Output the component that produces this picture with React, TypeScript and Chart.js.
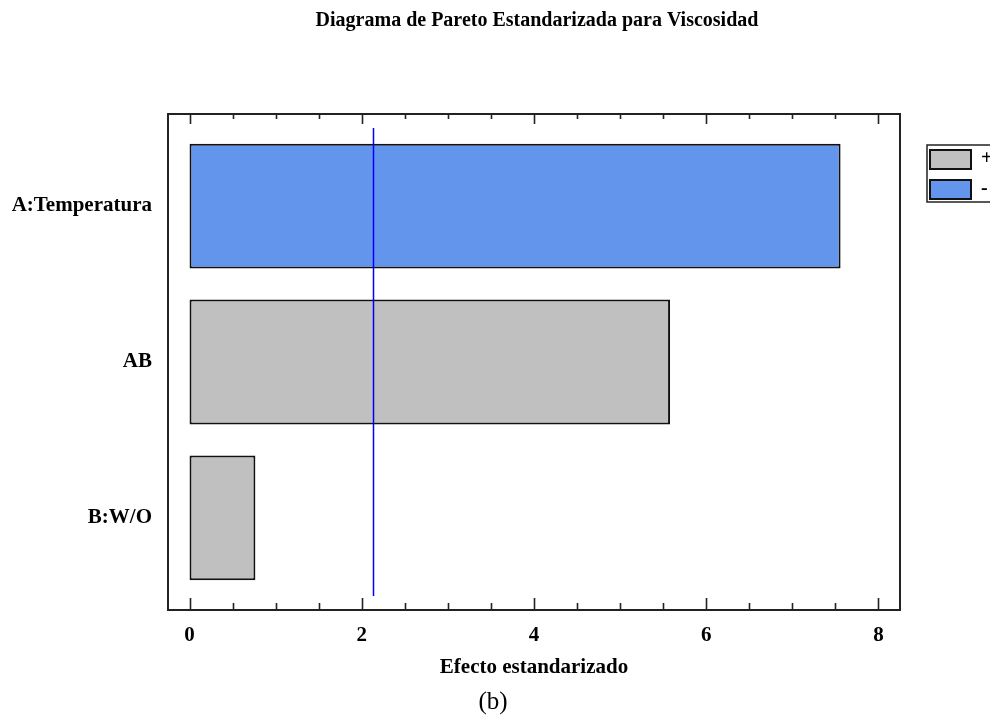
import React, { useEffect, useRef } from "react";
import { Chart, registerables } from "chart.js";

Chart.register(...registerables);

const TITLE = "Diagrama de Pareto Estandarizada para Viscosidad";
const X_TITLE = "Efecto estandarizado";
const CAPTION = "(b)";
const FACTORS = ["A:Temperatura", "AB", "B:W/O"];
const EFFECTS = [7.56, 5.58, 0.765];
const SIGNS = ["-", "+", "+"];
const CRITICAL = 2.125;
const X_TICKS = [0, 2, 4, 6, 8];
const X_MINOR_STEP = 0.5;
const LEGEND_ITEMS = ["+", "-"];

const BLUE = "#6495ED";
const GRAY = "#C0C0C0";
const FONT = "'Liberation Serif', 'Times New Roman', serif";

const decorPlugin = {
  id: "decor",
  beforeDatasetsDraw(chart: any) {
    const { ctx, chartArea: a, scales } = chart;
    const xs = scales.x;
    ctx.save();
    const start = X_TICKS[0];
    const end = X_TICKS[X_TICKS.length - 1];
    ctx.strokeStyle = "#222";
    ctx.lineWidth = 1.6;
    for (let v = start; v <= end + 1e-9; v += X_MINOR_STEP) {
      const px = Math.round(xs.getPixelForValue(v)) + 0.5;
      const major = X_TICKS.some((t) => Math.abs(t - v) < 1e-9);
      const lb = major ? 12 : 7;
      const lt = major ? 10 : 5;
      ctx.beginPath();
      ctx.moveTo(px, a.bottom);
      ctx.lineTo(px, a.bottom - lb);
      ctx.moveTo(px, a.top);
      ctx.lineTo(px, a.top + lt);
      ctx.stroke();
    }
    ctx.restore();
  },
  afterDatasetsDraw(chart: any) {
    const { ctx, chartArea: a, scales } = chart;
    const xs = scales.x;
    const ys = scales.y;
    ctx.save();
    const cx = Math.round(xs.getPixelForValue(CRITICAL)) + 0.5;
    ctx.strokeStyle = "#0000FF";
    ctx.lineWidth = 1.5;
    ctx.beginPath();
    ctx.moveTo(cx, ys.getPixelForValue(-0.5));
    ctx.lineTo(cx, ys.getPixelForValue(FACTORS.length - 0.5));
    ctx.stroke();
    ctx.strokeStyle = "#222";
    ctx.lineWidth = 2;
    ctx.strokeRect(a.left, a.top, a.right - a.left, a.bottom - a.top);
    ctx.fillStyle = "#000";
    ctx.font = `bold 20px ${FONT}`;
    ctx.textAlign = "center";
    ctx.textBaseline = "middle";
    ctx.fillText(TITLE, (a.left + a.right) / 2 + 3, 21);
    ctx.font = `25px ${FONT}`;
    ctx.fillText(CAPTION, 493, 702);
    const lx = a.right + 27;
    const ly = a.top + 31;
    ctx.lineWidth = 1.5;
    ctx.strokeStyle = "#222";
    ctx.strokeRect(lx, ly, 120, 57);
    LEGEND_ITEMS.forEach((s, i) => {
      const by = ly + 5 + i * 30;
      ctx.fillStyle = s === "+" ? GRAY : BLUE;
      ctx.fillRect(lx + 3, by, 41, 19);
      ctx.lineWidth = 2;
      ctx.strokeStyle = "#111";
      ctx.strokeRect(lx + 3, by, 41, 19);
      ctx.fillStyle = "#000";
      ctx.font = `bold 20px ${FONT}`;
      ctx.textAlign = "left";
      ctx.fillText(s, lx + 54, by + 9);
    });
    ctx.restore();
  },
};

export default function App() {
  const ref = useRef<HTMLCanvasElement | null>(null);
  useEffect(() => {
    if (!ref.current) return;
    const chart = new Chart(ref.current, {
      type: "bar",
      data: {
        datasets: [
          {
            data: EFFECTS.map((v, i) => ({ x: v, y: i })),
            backgroundColor: SIGNS.map((s) => (s === "-" ? BLUE : GRAY)),
            borderColor: "#111",
            borderWidth: 2,
            borderSkipped: false,
            categoryPercentage: 0.8,
            barPercentage: 1,
          },
        ],
      },
      plugins: [decorPlugin],
      options: {
        responsive: false,
        animation: false,
        indexAxis: "y",
        layout: { padding: { left: 0, right: 90, top: 114, bottom: 0 } },
        plugins: { legend: { display: false }, tooltip: { enabled: false }, title: { display: false } },
        scales: {
          x: {
            type: "linear",
            min: -0.25,
            max: 8.25,
            grid: { display: false, drawTicks: false },
            border: { display: false },
            afterBuildTicks: (s: any) => {
              s.ticks = X_TICKS.map((v) => ({ value: v }));
            },
            afterFit: (s: any) => {
              s.height = 113;
            },
            ticks: {
              padding: 13,
              color: "#000",
              font: { family: FONT, size: 21, weight: "bold" },
              maxRotation: 0,
            },
            title: {
              display: true,
              text: X_TITLE,
              color: "#000",
              font: { family: FONT, size: 21, weight: "bold" },
              padding: { top: 4, bottom: 43 },
            },
          },
          y: {
            type: "linear",
            reverse: true,
            offset: false,
            min: -0.59,
            max: FACTORS.length - 1 + 0.59,
            grid: { display: false, drawTicks: false, offset: false },
            border: { display: false },
            afterBuildTicks: (s: any) => {
              s.ticks = FACTORS.map((_, i) => ({ value: i }));
            },
            afterFit: (s: any) => {
              s.width = 168;
            },
            ticks: {
              padding: 16,
              color: "#000",
              font: { family: FONT, size: 21, weight: "bold" },
              callback: (v: any) => FACTORS[Math.round(Number(v))] ?? "",
            },
          },
        },
      },
    } as any);
    return () => chart.destroy();
  }, []);
  return (
    <div style={{ position: "fixed", left: 0, top: 0, width: 990, height: 723, background: "#fff" }}>
      <canvas ref={ref} width={990} height={723} style={{ display: "block", width: 990, height: 723 }} />
    </div>
  );
}
